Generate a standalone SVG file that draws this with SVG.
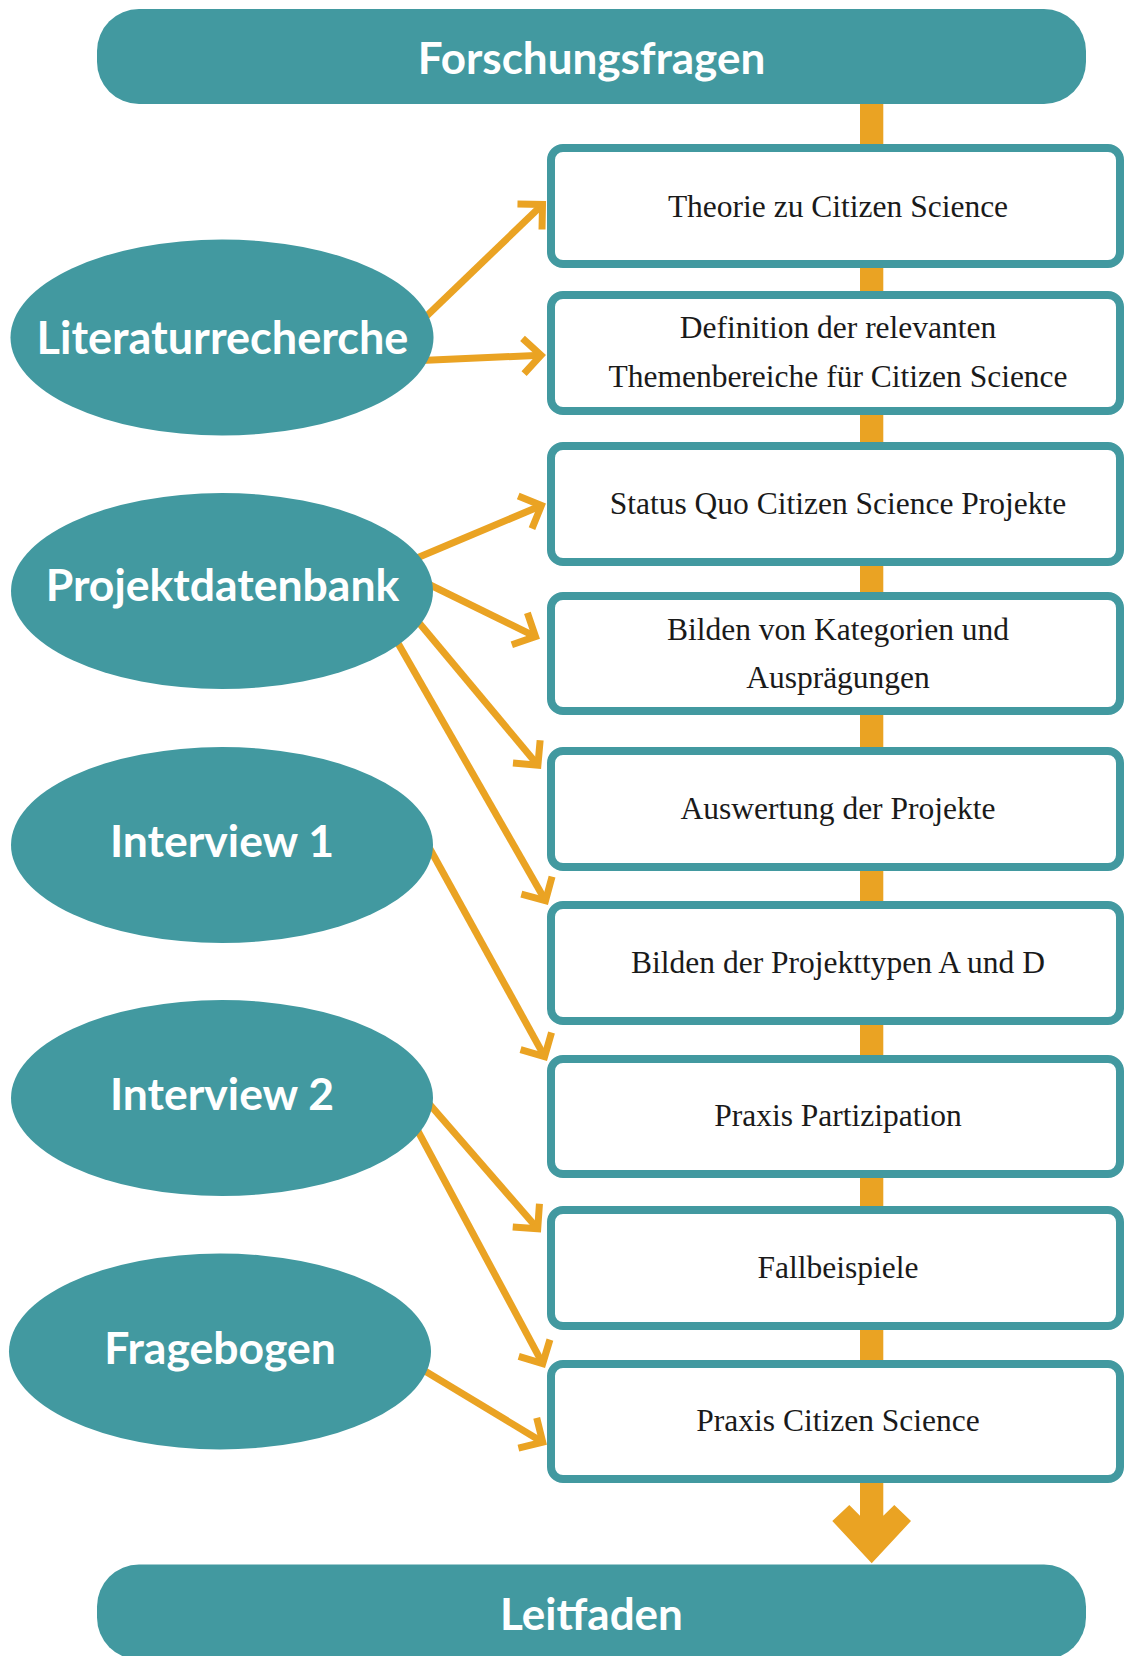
<svg xmlns="http://www.w3.org/2000/svg" width="1124" height="1656" viewBox="0 0 1124 1656">
<defs>
<style>
.bar{fill:#4299A0}
.ell{fill:#4299A0}
.bt{font-family:Lato,"Open Sans",sans-serif;font-weight:bold;fill:#ffffff;text-anchor:middle}
.box{fill:#ffffff;stroke:#4299A0;stroke-width:8}
.st{font-family:"Liberation Serif","Times New Roman",serif;font-size:31.5px;fill:#1a1a1a;text-anchor:middle}
.con{fill:none;stroke:#EAA323;stroke-width:7;marker-end:url(#ah)}
</style>
<marker id="ah" markerUnits="userSpaceOnUse" markerWidth="50" markerHeight="50" viewBox="-25 -25 50 50" refX="0" refY="0" orient="auto" overflow="visible">
<path d="M-17.7,-17.7 L0,0 L-17.7,17.7" fill="none" stroke="#EAA323" stroke-width="7" stroke-linejoin="miter"/>
</marker>
</defs>
<rect width="1124" height="1656" fill="#ffffff"/>

<g id="connectors">
<polygon id="backbone" fill="#EAA323" points="860,100 860,1515.7 849.3,1505 832.3,1521 871.7,1563.3 911,1521 894.3,1505 883.3,1515.7 883.3,100"/>
<path class="con" d="M410,332 L542.5,204.5"/>
<path class="con" d="M410,361 L541,355.2"/>
<path class="con" d="M405,563 L541.4,505.5"/>
<path class="con" d="M420,580 L535.5,636.6"/>
<path class="con" d="M410,612 L537.9,765.2"/>
<path class="con" d="M395,638 L545.5,900.7"/>
<path class="con" d="M425,840 L544.6,1056.6"/>
<path class="con" d="M425,1099 L537.7,1228.7"/>
<path class="con" d="M412,1120 L542.7,1363.6"/>
<path class="con" d="M410,1362 L542.7,1442.2"/>
</g>

<g id="forschungsfragen">
<rect class="bar" x="97" y="9" width="989" height="95" rx="42" ry="42"/>
<text class="bt" x="591.5" y="74" font-size="44">Forschungsfragen</text>
</g>

<g id="leitfaden">
<rect class="bar" x="97" y="1564.5" width="989" height="95" rx="42" ry="42"/>
<text class="bt" x="591.5" y="1630" font-size="44">Leitfaden</text>
</g>

<g id="literaturrecherche">
<ellipse class="ell" cx="222" cy="337.5" rx="211.5" ry="98"/>
<text class="bt" x="222.5" y="354" font-size="45">Literaturrecherche</text>
</g>
<g id="projektdatenbank">
<ellipse class="ell" cx="222" cy="591" rx="211" ry="98"/>
<text class="bt" x="222.5" y="601" font-size="44.5">Projektdatenbank</text>
</g>
<g id="interview1">
<ellipse class="ell" cx="222" cy="845" rx="211" ry="98"/>
<text class="bt" x="222" y="856.5" font-size="44.5">Interview 1</text>
</g>
<g id="interview2">
<ellipse class="ell" cx="222" cy="1098" rx="211" ry="98"/>
<text class="bt" x="222" y="1110" font-size="44.5">Interview 2</text>
</g>
<g id="fragebogen">
<ellipse class="ell" cx="220" cy="1351.5" rx="211" ry="98"/>
<text class="bt" x="220" y="1364" font-size="44.5">Fragebogen</text>
</g>

<g id="box1">
<rect class="box" x="551" y="148" width="569" height="116" rx="12"/>
<text class="st" x="838" y="217">Theorie zu Citizen Science</text>
</g>
<g id="box2">
<rect class="box" x="551" y="295" width="569" height="116" rx="12"/>
<text class="st" x="838" y="338">Definition der relevanten</text>
<text class="st" x="838" y="387">Themenbereiche für Citizen Science</text>
</g>
<g id="box3">
<rect class="box" x="551" y="446" width="569" height="116" rx="12"/>
<text class="st" x="838" y="513.5">Status Quo Citizen Science Projekte</text>
</g>
<g id="box4">
<rect class="box" x="551" y="596" width="569" height="115" rx="12"/>
<text class="st" x="838" y="640">Bilden von Kategorien und</text>
<text class="st" x="838" y="688">Ausprägungen</text>
</g>
<g id="box5">
<rect class="box" x="551" y="751" width="569" height="116" rx="12"/>
<text class="st" x="838" y="819">Auswertung der Projekte</text>
</g>
<g id="box6">
<rect class="box" x="551" y="905" width="569" height="116" rx="12"/>
<text class="st" x="838" y="973">Bilden der Projekttypen A und D</text>
</g>
<g id="box7">
<rect class="box" x="551" y="1059" width="569" height="115" rx="12"/>
<text class="st" x="838" y="1126">Praxis Partizipation</text>
</g>
<g id="box8">
<rect class="box" x="551" y="1210" width="569" height="116" rx="12"/>
<text class="st" x="838" y="1278">Fallbeispiele</text>
</g>
<g id="box9">
<rect class="box" x="551" y="1364" width="569" height="115" rx="12"/>
<text class="st" x="838" y="1431">Praxis Citizen Science</text>
</g>
</svg>
